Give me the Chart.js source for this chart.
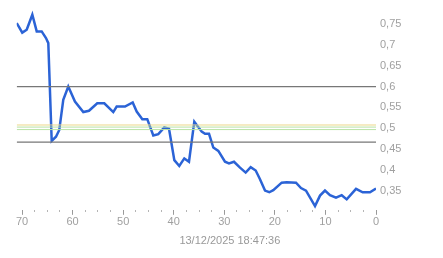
<!DOCTYPE html>
<html>
<head>
<meta charset="utf-8">
<script src="https://cdn.jsdelivr.net/npm/chart.js@4/dist/chart.umd.min.js"></script>
<style>
  html, body { margin: 0; padding: 0; background: #fff; }
  canvas { display: block; }
</style>
</head>
<body>
<canvas id="priceChart" width="443" height="258"></canvas>
<script>
// minutes ago (x) and price (y)
var ago = [71.05, 69.95, 69.07, 67.96, 67.09, 66.11, 65.26, 64.80, 64.13, 63.28,
           62.63, 61.84, 60.85, 59.53, 57.88, 56.76, 55.12, 53.73, 51.95, 51.28,
           49.64, 48.11, 47.32, 46.21, 45.23, 44.04, 43.05, 41.86, 40.93, 39.88,
           38.90, 37.91, 36.98, 35.93, 34.47, 33.81, 33.02, 32.17, 31.18, 29.86,
           29.07, 28.08, 26.89, 25.77, 24.78, 23.79, 22.94, 21.95, 21.10, 20.31,
           18.65, 17.66, 15.82, 14.83, 13.84, 12.06, 11.07, 10.09, 9.10, 7.91,
           6.78, 5.79, 3.95, 2.63, 1.19, 0];
var price = [0.752, 0.729, 0.736, 0.772, 0.732, 0.732, 0.716, 0.704, 0.470, 0.480,
             0.496, 0.568, 0.600, 0.564, 0.539, 0.542, 0.560, 0.560, 0.539, 0.552,
             0.552, 0.562, 0.540, 0.522, 0.522, 0.483, 0.486, 0.502, 0.499, 0.424,
             0.410, 0.428, 0.420, 0.516, 0.492, 0.487, 0.487, 0.454, 0.446, 0.420,
             0.416, 0.420, 0.406, 0.394, 0.407, 0.399, 0.378, 0.351, 0.347, 0.352,
             0.370, 0.371, 0.370, 0.357, 0.351, 0.314, 0.339, 0.351, 0.340, 0.334,
             0.340, 0.330, 0.355, 0.347, 0.347, 0.356];

// horizontal reference levels
var levels = [0.6, 0.467, 0.508, 0.503, 0.497];
var levelColors = ['#777777', '#777777', '#ecd98a', '#b9e2a4', '#b9e2a4'];
var levelWidths = [1.3, 1.3, 1, 1, 1];

var yTicks = [0.35, 0.4, 0.45, 0.5, 0.55, 0.6, 0.65, 0.7, 0.75];
var xMajor = [70, 60, 50, 40, 30, 20, 10, 0];
var timeLabel = '13/12/2025 18:47:36';

var xTicks = [];
for (var t = 0; t <= 70; t += 2.5) xTicks.push(t);

var datasets = levels.map(function(v, i) {
    return {
        data: [{x: 0, y: v}, {x: 71.05, y: v}],
        borderColor: levelColors[i],
        borderWidth: levelWidths[i],
        pointRadius: 0
    };
});
datasets.push({
    data: ago.map(function(a, i) { return {x: a, y: price[i]}; }),
    borderColor: '#2b63d6',
    borderWidth: 2.5,
    pointRadius: 0,
    tension: 0
});

var ctx = document.getElementById('priceChart').getContext('2d');
new Chart(ctx, {
    type: 'line',
    data: { datasets: datasets },
    options: {
        responsive: false,
        animation: false,
        layout: { padding: { left: 16.7, top: 3, right: 0, bottom: 0 } },
        plugins: {
            legend: { display: false },
            tooltip: { enabled: false },
            title: {
                display: true,
                position: 'bottom',
                text: timeLabel,
                color: '#999',
                font: { family: 'Liberation Sans', size: 11, weight: 'normal' },
                padding: { top: 0, bottom: 10 }
            }
        },
        scales: {
            x: {
                type: 'linear',
                reverse: true,
                min: 0,
                max: 71.05,
                afterBuildTicks: function(scale) {
                    scale.ticks = xTicks.map(function(v) { return {value: v}; });
                },
                afterFit: function(scale) {
                    scale.height = 25;
                    scale.paddingLeft = 0;
                    scale.paddingRight = 0;
                },
                border: { display: false },
                grid: {
                    drawOnChartArea: false,
                    drawTicks: true,
                    tickLength: 5,
                    tickColor: function(c) {
                        return xMajor.indexOf(c.tick.value) >= 0 ? '#9a9a9a' : '#b5b5b5';
                    },
                    tickBorderDash: function(c) {
                        return xMajor.indexOf(c.tick.value) >= 0 ? [] : [2, 10];
                    }
                },
                ticks: {
                    autoSkip: false,
                    maxRotation: 0,
                    padding: 1,
                    color: '#a0a0a0',
                    font: { family: 'Liberation Sans', size: 11 },
                    callback: function(v) {
                        return xMajor.indexOf(v) >= 0 ? String(v) : '';
                    }
                }
            },
            y: {
                position: 'right',
                min: 0.305,
                max: 0.8,
                afterBuildTicks: function(scale) {
                    scale.ticks = yTicks.map(function(v) { return {value: v}; });
                },
                afterFit: function(scale) {
                    scale.width = 67;
                    scale.paddingTop = 0;
                    scale.paddingBottom = 0;
                },
                border: { display: false },
                grid: { display: false, drawTicks: false },
                ticks: {
                    padding: 4,
                    color: '#a0a0a0',
                    font: { family: 'Liberation Sans', size: 11 },
                    callback: function(v) {
                        return String(parseFloat(v.toFixed(2))).replace('.', ',');
                    }
                }
            }
        }
    }
});
</script>
</body>
</html>
